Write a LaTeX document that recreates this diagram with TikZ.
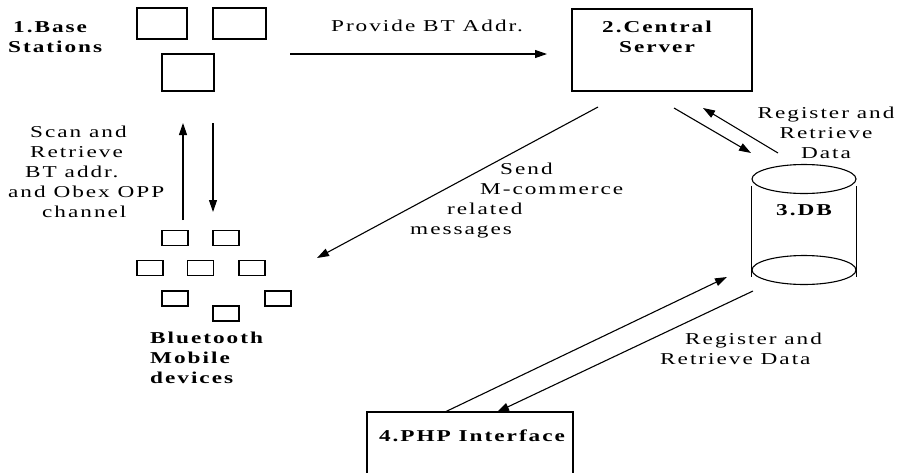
\documentclass[tikz,border=0pt]{standalone}
\usepackage{fontspec}
\setmainfont{Liberation Serif}[FakeStretch=1.4,LetterSpace=12]
\usetikzlibrary{arrows.meta}
\begin{document}
\begin{tikzpicture}[x=1pt,y=-1pt,
  box/.style={draw, line width=1.2pt, rectangle, inner sep=0pt},
  devbox/.style={box, minimum width=26pt, minimum height=15pt},
  lbl/.style={font=\fontsize{16.6}{20}\selectfont, inner sep=0pt, align=center},
  blbl/.style={lbl, font=\fontsize{16.6}{20}\selectfont\bfseries},
  arr/.style={-{Triangle[length=12pt,width=8pt]}, line width=1.1pt}]
\useasboundingbox (0,0) rectangle (900,472);
\clip (0,0) rectangle (900,472);

% base stations
\node[box, minimum width=50pt, minimum height=31pt] (bs1) at (162,23.5) {};
\node[box, minimum width=53pt, minimum height=31pt] (bs2) at (239.5,23.5) {};
\node[box, minimum width=52pt, minimum height=37pt] (bs3) at (188,72.5) {};
\node[blbl, align=left, anchor=west] (bslbl) at (8,37) {\hspace*{5pt}1.Base\\Stations};

% central server
\node[box, minimum width=180pt, minimum height=82pt] (server) at (662,50) {};
\node[blbl] (serverlbl) at (657,37) {2.Central\\Server};

% database cylinder
\node[minimum width=104pt, minimum height=106pt, inner sep=0pt] (db) at (804,224.5) {};
\draw[line width=1.1pt] (db.north west) ++(0,14.5) coordinate (dbtl)
  (dbtl) -- ++(0,91) coordinate (dbbl)
  (db.north east) ++(0,14.5) -- ++(0,91);
\draw[line width=1.1pt] (804,179) ellipse [x radius=52pt, y radius=14.5pt];
\draw[line width=1.1pt] (804,270) ellipse [x radius=52pt, y radius=14.5pt];
\node[blbl] (dblbl) at (804,210) {3.DB};

% PHP interface
\node[box, minimum width=206pt, minimum height=90pt] (php) at (470,457) {};
\node[blbl] (phplbl) at (472,436) {4.PHP Interface};

% mobile devices
\node[devbox] (m1) at (175,238) {};
\node[devbox] (m2) at (226,238) {};
\node[devbox] (m3) at (150,268) {};
\node[devbox] (m4) at (200.5,268) {};
\node[devbox] (m5) at (252,268) {};
\node[devbox] (m6) at (175,298.5) {};
\node[devbox] (m7) at (278,298.5) {};
\node[devbox] (m8) at (226,313.5) {};
\node[blbl, align=left, anchor=west] (mlbl) at (150,358) {Bluetooth\\Mobile\\devices};

% connector end points
\coordinate (pA) at (290,54);  \coordinate (pB) at (547,54);
\coordinate (sA) at (598,107); \coordinate (sB) at (317,258);
\coordinate (dA) at (674,108); \coordinate (dB) at (751,153);
\coordinate (dC) at (778,153); \coordinate (dD) at (703,108);
\coordinate (qA) at (445,412); \coordinate (qB) at (727,277);
\coordinate (qC) at (753,291); \coordinate (qD) at (497,412);
\coordinate (bA) at (183,220); \coordinate (bB) at (183,123);
\coordinate (bC) at (213,123); \coordinate (bD) at (213,212);

% connectors
\draw[arr] (pA) -- (pB);
\draw[arr] (sA) -- (sB);
\draw[arr] (dA) -- (dB);
\draw[arr] (dC) -- (dD);
\draw[arr] (qA) -- (qB);
\draw[arr] (qC) -- (qD);
\draw[arr] (bA) -- (bB);
\draw[arr] (bC) -- (bD);

% connector labels
\node[lbl] (provlbl) at (427,26) {Provide BT Addr.};
\node[lbl] (regtop) at (826,133) {Register and\\Retrieve\\Data};
\node[lbl, align=left, anchor=west] (regbot) at (660,349) {\hspace*{25pt}Register and\\Retrieve Data};
\node[lbl, align=left, anchor=west] (scanlbl) at (8,171.5)
  {\hspace*{22pt}Scan and\\\hspace*{22pt}Retrieve\\\hspace*{17pt}BT addr.\\and Obex OPP\\\hspace*{34pt}channel};
\node[lbl, align=left, anchor=west] (sendlbl) at (410,201)
  {\hspace*{90pt}Send\\\hspace*{70pt}M-commerce\\\hspace*{37pt}related\\messages};
\end{tikzpicture}
\end{document}
